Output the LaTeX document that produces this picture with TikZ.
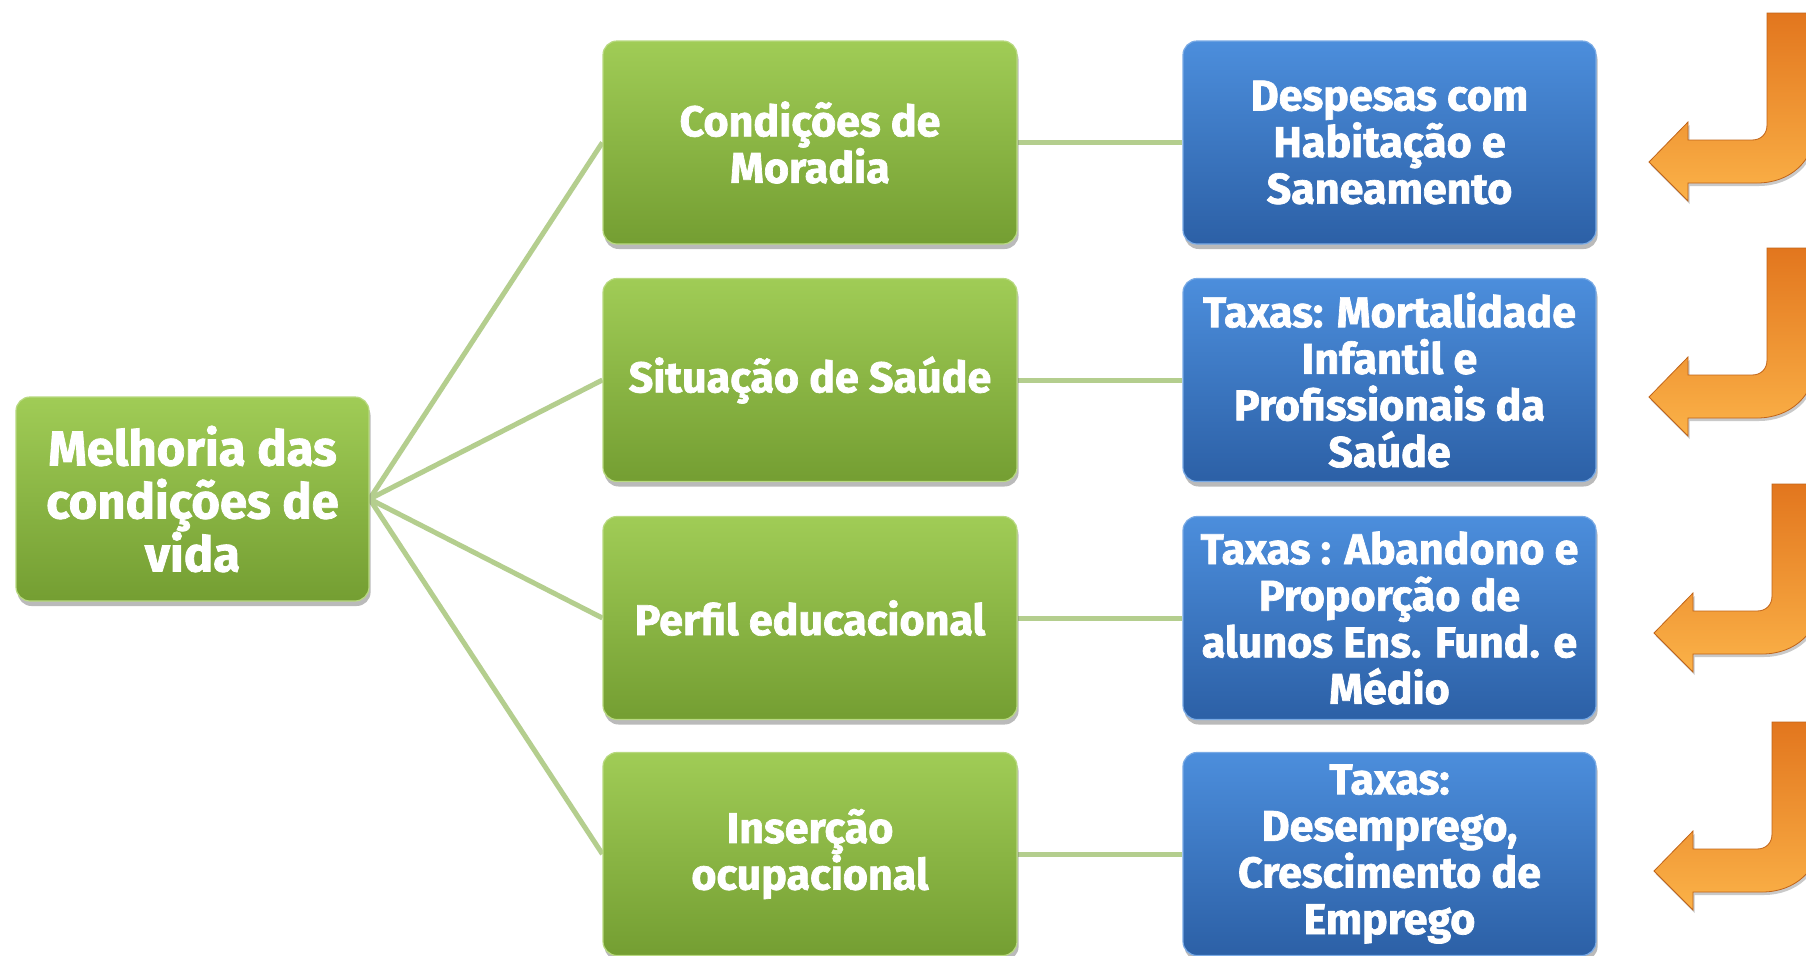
\documentclass[tikz,border=0pt]{standalone}
\usepackage{fontspec}
\setmainfont{Fira Sans}[BoldFeatures={FakeBold=1.6}]
\usetikzlibrary{shadows,backgrounds}
\pgfdeclarelayer{bottom}
\pgfsetlayers{bottom,background,main}
\definecolor{gtop}{RGB}{160,204,86}
\definecolor{gbot}{RGB}{116,158,50}
\definecolor{btop}{RGB}{76,142,220}
\definecolor{bbot}{RGB}{44,96,166}
\definecolor{connc}{RGB}{180,206,142}
\definecolor{otop}{RGB}{226,118,30}
\definecolor{obot}{RGB}{251,178,72}
\tikzset{
  box/.style={rounded corners=7pt, minimum height=101.5pt, align=center, text=white,
    inner sep=0pt, line width=0.6pt,
    drop shadow={shadow xshift=0.8pt, shadow yshift=-2.5pt, opacity=0.45, fill=black!60},
    font=\bfseries\fontsize{21.5}{23.3}\selectfont},
  gbox/.style={box, top color=gtop, bottom color=gbot, draw=gtop!75!white, minimum width=207pt},
  bbox/.style={box, top color=btop, bottom color=bbot, draw=btop!75!white, minimum width=206.5pt},
  rootbox/.style={gbox, minimum width=176.5pt, minimum height=102pt,
    font=\bfseries\fontsize{24.5}{26.5}\selectfont},
  connector/.style={draw=connc, line width=2.5pt},
  uarrow/.style={top color=otop, bottom color=obot, draw=otop!85!black, line width=0.4pt,
    drop shadow={shadow xshift=0.8pt, shadow yshift=-1.5pt, opacity=0.35, fill=black!60}}
}
\begin{document}
\begin{tikzpicture}[x=0.5pt, y=-0.5pt]
\useasboundingbox (0,0) rectangle (1806,955);
\clip (0,0) rectangle (1806,955);
\begin{pgfonlayer}{bottom}
\fill[white] (0,0) rectangle (1806,955);
\end{pgfonlayer}

\node[rootbox] (root) at (192.5,499) {Melhoria das\\condições de\\vida};

\node[gbox] (g1) at (810,142.5) {Condições de\\Moradia};
\node[gbox] (g2) at (810,380) {Situação de Saúde};
\node[gbox] (g3) at (810,618) {Perfil educacional};
\node[gbox] (g4) at (810,854) {Inserção\\ocupacional};

\node[bbox] (b1) at (1389.5,142.5) {Despesas com\\Habitação e\\Saneamento};
\node[bbox] (b2) at (1389.5,380) {Taxas: Mortalidade\\Infantil e\\Profissionais da\\Saúde};
\node[bbox] (b3) at (1389.5,618) {Taxas : Abandono e\\Proporção de\\alunos Ens. Fund. e\\Médio};
\node[bbox] (b4) at (1389.5,854) {Taxas:\\Desemprego,\\Crescimento de\\Emprego};

\begin{scope}[on background layer]
  \foreach \n in {g1,g2,g3,g4} \draw[connector] (root.east) -- (\n.west);
  \foreach \i in {1,2,3,4} \draw[connector] (g\i.east) -- (b\i.west);
\end{scope}

\foreach \T/\dx in {13/0,248/0,484/5,722/5} {
  \begin{scope}[shift={(\dx,\T)}]
    \path[uarrow] (1767,0) -- (1815,0) -- (1815,115)
      .. controls (1815,148) and (1790,170) .. (1757,170)
      -- (1688,170) -- (1688,188) -- (1649,149) -- (1688,109) -- (1688,127)
      -- (1752,127) .. controls (1761,127) and (1767,121) .. (1767,112) -- cycle;
  \end{scope}
}
\end{tikzpicture}
\end{document}
